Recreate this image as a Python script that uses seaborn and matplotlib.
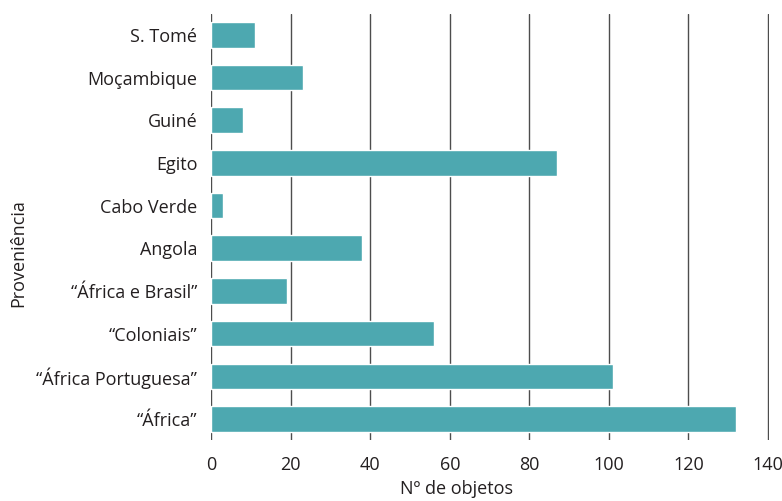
import matplotlib
matplotlib.use('Agg')
import matplotlib.pyplot as plt
import seaborn as sns
import pandas as pd

# proveniência dos objetos (de cima para baixo)
categorias = ['S. Tomé', 'Moçambique', 'Guiné', 'Egito', 'Cabo Verde', 'Angola',
              '“África e Brasil”', '“Coloniais”', '“África Portuguesa”', '“África”']
objetos = [11, 23, 8, 87, 3, 38, 19, 56, 101, 132]
xticks = [0, 20, 40, 60, 80, 100, 120, 140]

df = pd.DataFrame({'Proveniência': categorias, 'objetos': objetos})

sns.set_style('white')
plt.rcParams['font.family'] = ['Open Sans', 'DejaVu Sans']
text_color = '#231f20'

fig = plt.figure(figsize=(7.82, 5.01), dpi=100)
ax = fig.add_axes([0.27, 0.121, 0.714, 0.852])

sns.barplot(data=df, x='objetos', y='Proveniência', color='#4da8b0',
            saturation=1, width=0.6, orient='h', ax=ax, zorder=3)

ax.set_xlim(0, 140.4)
ax.set_xticks(xticks)
ax.set_ylim(9.5, -0.5)
ax.grid(axis='x', color='#4d4d4d', linewidth=1.0, zorder=0)
ax.grid(axis='y', visible=False)
for s in ax.spines.values():
    s.set_visible(False)

ax.tick_params(axis='x', length=0, pad=11, labelsize=13, labelcolor=text_color)
ax.tick_params(axis='y', length=0, pad=10, labelsize=13, labelcolor=text_color)

ax.set_xlabel('Nº de objetos', fontsize=13, color=text_color)
ax.set_ylabel('Proveniência', fontsize=13, color=text_color)
ax.xaxis.set_label_coords(0.44, -0.092)
ax.yaxis.set_label_coords(-0.33, 0.438)

fig.savefig('out.png', dpi=100)
